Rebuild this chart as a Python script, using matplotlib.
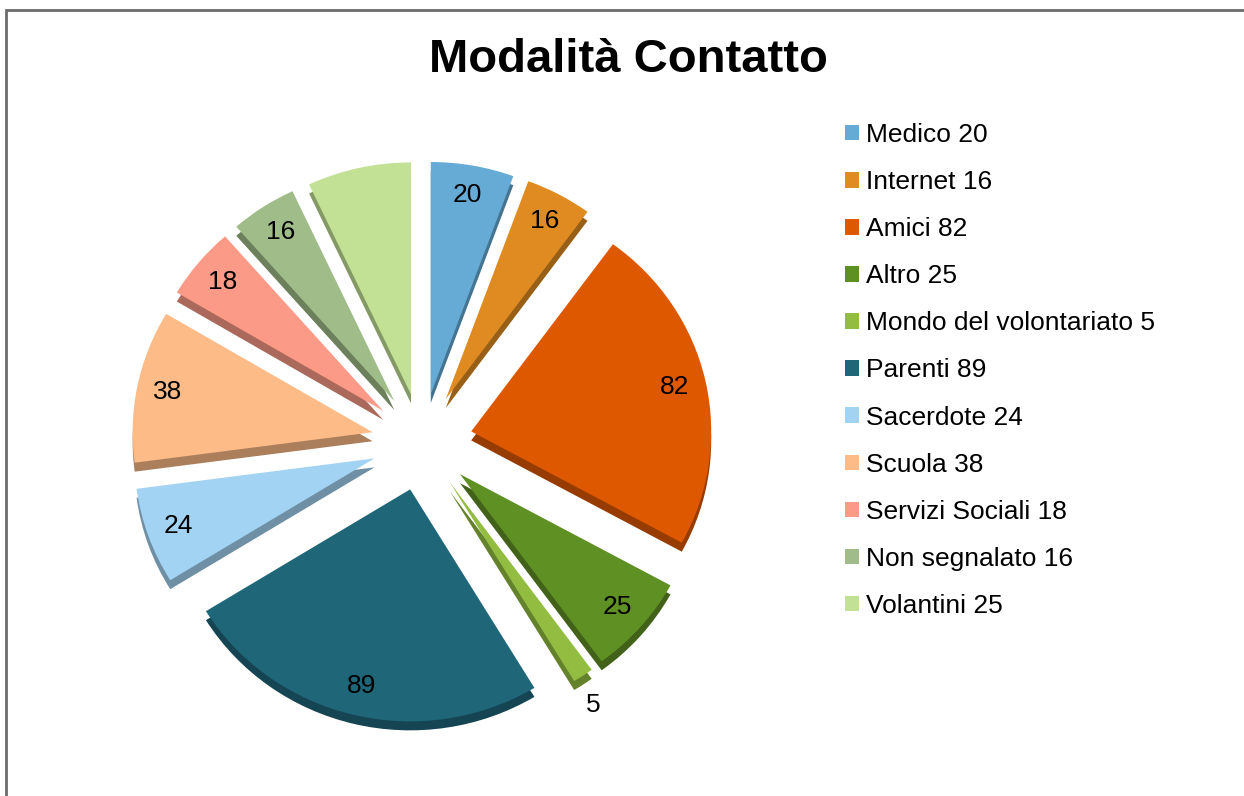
"""
Modalita Contatto - exploded pie with fake depth
"""

import numpy as np
import matplotlib
matplotlib.use('Agg')
from matplotlib import pyplot as plt
from matplotlib.patches import Rectangle
from matplotlib.colors import to_rgb

plt.rcParams['font.family'] = ['Liberation Sans', 'DejaVu Sans']

# data
categories = ['Medico', 'Internet', 'Amici', 'Altro', 'Mondo del volontariato',
              'Parenti', 'Sacerdote', 'Scuola', 'Servizi Sociali',
              'Non segnalato', 'Volantini']
values = [20, 16, 82, 25, 5, 89, 24, 38, 18, 16, 25]
colors = ['#66abd5', '#e08b22', '#de5800', '#5f9023', '#93bd40', '#1f6679',
          '#a3d3f3', '#fdbb88', '#fb9a86', '#a0bc88', '#c2e194']
title = 'Modalità Contatto'

W, H = 1244, 796
fig = plt.figure(figsize=(W / 100, H / 100), dpi=100)

# pie centre ~ (422, 442) px, radius 240 px wide, 232 px tall
cx, cy, rx, ry = 422, 442, 240, 232
lim = 1.3
ax = fig.add_axes([(cx - lim * rx) / W, (H - cy - lim * ry) / H,
                   2 * lim * rx / W, 2 * lim * ry / H])

explode = [0.21] * len(values)
total = float(sum(values))

# depth: darker copy shifted down
dark = [tuple(c * 0.68 for c in to_rgb(col)) for col in colors]
ax.pie(values, colors=dark, explode=explode, startangle=90, counterclock=False,
       center=(0, -9.0 / ry), wedgeprops=dict(linewidth=0))

wedges, texts, autotexts = ax.pie(
    values, colors=colors, explode=explode, startangle=90, counterclock=False,
    autopct=lambda p: '%d' % round(p * total / 100.0), pctdistance=0.87,
    wedgeprops=dict(linewidth=0), textprops=dict(fontsize=19, color='black'))

# Volantini has no label, Mondo label sits outside
autotexts[categories.index('Volantini')].set_visible(False)
i = categories.index('Mondo del volontariato')
w = wedges[i]
th = np.deg2rad(0.5 * (w.theta1 + w.theta2) - 1.5)
autotexts[i].set_position(((1.13 + explode[i]) * np.cos(th),
                           (1.13 + explode[i]) * np.sin(th)))

ax.set_aspect('auto')
ax.set_xlim(-lim, lim)
ax.set_ylim(-lim, lim)
ax.axis('off')

fig.text(628 / W, 1 - 60 / H, title, ha='center', va='center',
         fontsize=34, fontweight='bold')

labels = ['%s %d' % (c, v) for c, v in zip(categories, values)]
fig.legend(wedges, labels, loc='upper left', bbox_to_anchor=(845 / W, 1 - 123 / H),
           frameon=False, fontsize=19, handlelength=0.53, handleheight=0.53,
           handletextpad=0.27, labelspacing=0.875, borderaxespad=0, borderpad=0)

# outer chart frame
fig.add_artist(Rectangle((6 / W, -0.1), 1.2, 1.1 - 10 / H, transform=fig.transFigure,
                         fill=False, ec='#6b6b6b', lw=2))

fig.savefig('out.png', dpi=100)
